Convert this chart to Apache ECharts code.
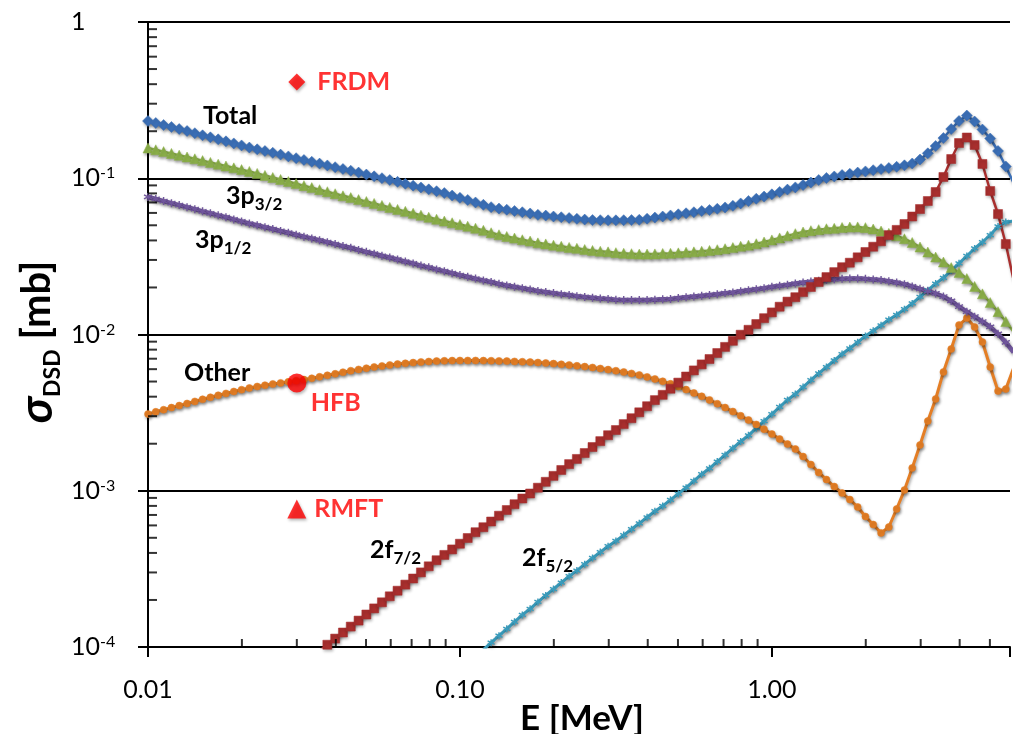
<!DOCTYPE html>
<html><head><meta charset="utf-8">
<script src="https://cdn.jsdelivr.net/npm/echarts@6/dist/echarts.min.js"></script>
<style>html,body{margin:0;padding:0;background:#fff}#c{width:1013px;height:734px}</style>
</head><body><div id="c"></div>
<script>
// Energy grid [MeV]
const energy = [
0.01,0.01059,0.01122,0.01189,0.01259,0.01334,0.01413,0.01496,0.01585,0.01679,
0.01778,0.01884,0.01995,0.02113,0.02239,0.02371,0.02512,0.02661,0.02818,0.02985,
0.03162,0.0335,0.03548,0.03758,0.03981,0.04217,0.04467,0.04732,0.05012,0.05309,
0.05623,0.05957,0.0631,0.06683,0.07079,0.07499,0.07943,0.08414,0.08913,0.09441,
0.1,0.1059,0.1122,0.1189,0.1259,0.1334,0.1413,0.1496,0.1585,0.1679,
0.1778,0.1884,0.1995,0.2113,0.2239,0.2371,0.2512,0.2661,0.2818,0.2985,
0.3162,0.335,0.3548,0.3758,0.3981,0.4217,0.4467,0.4732,0.5012,0.5309,
0.5623,0.5957,0.631,0.6683,0.7079,0.7499,0.7943,0.8414,0.8913,0.9441,
1,1.059,1.122,1.189,1.259,1.334,1.413,1.496,1.585,1.679,
1.778,1.884,1.995,2.113,2.239,2.371,2.512,2.661,2.818,2.985,
3.162,3.35,3.548,3.758,3.981,4.217,4.467,4.732,5.012,5.309,
5.623,5.957];

const total = [
0.2325,0.2257,0.2191,0.2128,0.2066,0.2006,0.1942,0.1883,0.1828,0.1775,
0.1723,0.1671,0.1622,0.1573,0.1532,0.1494,0.1455,0.1417,0.138,0.1344,
0.1309,0.1274,0.1241,0.1208,0.1177,0.1146,0.1117,0.1087,0.1057,0.1029,
0.1001,0.0974,0.0948,0.0922,0.0897,0.0873,0.0849,0.0826,0.0804,0.0775,
0.0749,0.0726,0.07,0.0676,0.0653,0.064,0.0629,0.0617,0.0606,0.0595,
0.0583,0.0577,0.0569,0.0563,0.0557,0.055,0.0544,0.054,0.0539,0.0538,
0.0538,0.0539,0.054,0.0542,0.0551,0.056,0.0569,0.0578,0.0588,0.0597,
0.0606,0.0617,0.0626,0.0637,0.065,0.0666,0.069,0.0715,0.0739,0.0763,
0.0789,0.0817,0.0846,0.0874,0.0905,0.0939,0.0974,0.1004,0.1027,0.1049,
0.1068,0.1087,0.1106,0.1126,0.1144,0.1163,0.1184,0.121,0.1243,0.1318,
0.1444,0.1608,0.1809,0.2066,0.2325,0.2521,0.2308,0.2051,0.1796,0.1494,
0.1189,0.0932];

const p32 = [
0.1561,0.1521,0.1481,0.1442,0.1405,0.1368,0.1332,0.1297,0.1263,0.123,
0.1198,0.1166,0.1136,0.1106,0.1074,0.1043,0.1011,0.0982,0.0953,0.0924,
0.0897,0.0871,0.0845,0.082,0.0796,0.0772,0.0752,0.073,0.071,0.069,
0.067,0.0651,0.0632,0.0614,0.0597,0.058,0.0563,0.0547,0.0532,0.0519,
0.0506,0.0493,0.0479,0.0464,0.0448,0.0435,0.0424,0.0414,0.0404,0.0396,
0.0386,0.038,0.0373,0.0367,0.0361,0.0356,0.035,0.0345,0.0341,0.0338,
0.0334,0.0331,0.0329,0.0327,0.0327,0.0328,0.033,0.0331,0.0333,0.0336,
0.0338,0.0341,0.0345,0.0349,0.0354,0.036,0.0367,0.0373,0.0381,0.0391,
0.0403,0.0415,0.0428,0.0442,0.0453,0.0462,0.0469,0.0475,0.0478,0.0484,
0.0487,0.0488,0.0483,0.0473,0.0459,0.0444,0.0428,0.041,0.0388,0.0363,
0.0337,0.0313,0.0291,0.0268,0.0249,0.0228,0.0203,0.0182,0.016,0.014,
0.0121,0.0104];

const p12 = [
0.0759,0.0737,0.0714,0.0693,0.0673,0.0653,0.0634,0.0614,0.0597,0.0579,
0.0563,0.0545,0.0529,0.0513,0.05,0.0486,0.0473,0.046,0.0448,0.0435,
0.0423,0.0412,0.0401,0.039,0.0379,0.0368,0.0359,0.0348,0.0338,0.0329,
0.0319,0.0311,0.0302,0.0293,0.0285,0.0276,0.0269,0.0261,0.0254,0.0247,
0.024,0.0234,0.0228,0.0222,0.0217,0.0211,0.0206,0.0202,0.0198,0.0194,
0.019,0.0187,0.0184,0.0181,0.0179,0.0176,0.0174,0.0172,0.017,0.0169,
0.0167,0.0166,0.0166,0.0166,0.0166,0.0167,0.0168,0.0169,0.0171,0.0173,
0.0175,0.0177,0.0179,0.0181,0.0184,0.0186,0.0189,0.0192,0.0195,0.0198,
0.0202,0.0205,0.0208,0.0212,0.0215,0.0218,0.0221,0.0224,0.0226,0.0227,
0.0228,0.0228,0.0227,0.0225,0.0223,0.0219,0.0215,0.021,0.0203,0.0196,
0.0189,0.0183,0.0175,0.0164,0.0151,0.014,0.013,0.0121,0.0112,0.0101,
0.0089,0.0077];

const other = [
0.003098,0.0032,0.0033,0.003405,0.003508,0.003618,0.003731,0.003849,0.003964,0.004083,
0.004198,0.004318,0.004434,0.004546,0.004648,0.004737,0.004822,0.0049,0.004981,0.005055,
0.005145,0.005245,0.005362,0.005482,0.005604,0.005737,0.005865,0.005978,0.006085,0.006194,
0.006286,0.006379,0.006465,0.006541,0.006609,0.006668,0.006717,0.006757,0.006787,0.006808,
0.006818,0.006818,0.006818,0.006808,0.006797,0.006777,0.006757,0.006727,0.006697,0.006658,
0.006619,0.00657,0.006513,0.006446,0.006379,0.006305,0.006231,0.006149,0.006059,0.005962,
0.005865,0.005754,0.005636,0.005505,0.005353,0.00519,0.005017,0.004836,0.004641,0.004441,
0.004227,0.004023,0.003815,0.003607,0.00341,0.003215,0.003022,0.002837,0.002655,0.002477,
0.002307,0.002144,0.001991,0.00185,0.001656,0.001472,0.001309,0.00118,0.001064,0.000967,
0.000879,0.000787,0.000684,0.000608,0.000537,0.000586,0.000764,0.00101,0.0014,0.001963,
0.002795,0.003866,0.005754,0.008075,0.0115,0.01275,0.01117,0.008954,0.006194,0.004349,
0.004479,0.006104];

const f72 = [
null,null,null,null,null,null,null,null,null,null,
null,null,null,null,null,null,null,null,null,null,
null,null,9.46e-5,1.034e-4,1.132e-4,1.238e-4,1.351e-4,1.476e-4,1.614e-4,1.766e-4,
1.932e-4,2.111e-4,2.292e-4,2.508e-4,2.744e-4,3.002e-4,3.284e-4,3.592e-4,3.884e-4,4.212e-4,
4.581e-4,4.984e-4,5.428e-4,5.842e-4,6.356e-4,6.922e-4,7.529e-4,8.2e-4,8.92e-4,9.603e-4,
1.046e-3,1.141e-3,1.245e-3,1.358e-3,1.481e-3,1.598e-3,1.744e-3,1.905e-3,2.078e-3,2.267e-3,
2.447e-3,2.671e-3,2.912e-3,3.177e-3,3.476e-3,3.803e-3,4.112e-3,4.498e-3,4.922e-3,5.385e-3,
5.891e-3,6.436e-3,6.969e-3,7.613e-3,8.33e-3,9.114e-3,9.97e-3,0.01072,0.01167,0.01272,
0.01385,0.01506,0.01624,0.01733,0.01868,0.02014,0.02168,0.02331,0.02508,0.02696,
0.02881,0.03119,0.03373,0.03646,0.0395,0.04327,0.04671,0.05095,0.05689,0.06355,
0.07151,0.08166,0.1019,0.1328,0.1681,0.1823,0.1632,0.1234,0.08288,0.05903,
0.03795,0.02233];

const f52 = [
null,null,null,null,null,null,null,null,null,null,
null,null,null,null,null,null,null,null,null,null,
null,null,null,null,null,null,null,null,null,null,
null,null,null,null,null,null,null,null,null,null,
null,null,null,9.62e-5,1.065e-4,1.181e-4,1.308e-4,1.45e-4,1.605e-4,1.756e-4,
1.943e-4,2.138e-4,2.35e-4,2.583e-4,2.838e-4,3.083e-4,3.388e-4,3.712e-4,4.049e-4,4.416e-4,
4.77e-4,5.202e-4,5.674e-4,6.188e-4,6.763e-4,7.396e-4,7.998e-4,8.749e-4,9.561e-4,1.047e-3,
1.156e-3,1.276e-3,1.392e-3,1.537e-3,1.696e-3,1.872e-3,2.066e-3,2.264e-3,2.514e-3,2.791e-3,
3.089e-3,3.436e-3,3.809e-3,4.16e-3,4.613e-3,5.114e-3,5.636e-3,6.194e-3,6.818e-3,7.5e-3,
8.16e-3,8.928e-3,9.781e-3,0.01056,0.01145,0.01244,0.01337,0.01452,0.01581,0.01743,
0.0192,0.02117,0.02306,0.02564,0.02855,0.03181,0.03552,0.03908,0.04333,0.04912,
0.05248,0.05326];

// Single model points at E = 0.03 MeV
const modelE = 0.03;
const frdm = 0.413;
const hfb = 0.00489;
const rmft = 0.000764;

// Axis ticks
const xMajorLabels = {0.01: '0.01', 0.1: '0.10', 1: '1.00'};
const xMinorTicks = [0.02,0.03,0.04,0.05,0.06,0.07,0.08,0.09,0.2,0.3,0.4,0.5,0.6,0.7,0.8,0.9,2,3,4,5];
const yMinorTicks = [2e-4,3e-4,4e-4,5e-4,6e-4,7e-4,8e-4,9e-4,2e-3,3e-3,4e-3,5e-3,6e-3,7e-3,8e-3,9e-3,
  0.02,0.03,0.04,0.05,0.06,0.07,0.08,0.09,0.2,0.3,0.4,0.5,0.6,0.7,0.8,0.9];

function pairs(vals){
  const out = [];
  for (let i = 0; i < energy.length; i++) if (vals[i] != null) out.push([energy[i], vals[i]]);
  return out;
}
const FONT = 'Lato';
const star = 'path://M5,0L5,10M0.7,2.5L9.3,7.5M0.7,7.5L9.3,2.5';
const sh = {shadowBlur: 3, shadowColor: 'rgba(0,0,0,0.35)', shadowOffsetX: 1, shadowOffsetY: 2};

function curve(name, vals, color, symbol, size, width, strokeSym){
  return {
    type: 'line', name: name, data: pairs(vals), symbol: symbol, symbolSize: size,
    showSymbol: true, silent: true,
    lineStyle: Object.assign({color: color, width: width}, sh),
    itemStyle: Object.assign({color: color, borderColor: color, borderWidth: strokeSym ? 1.4 : 0.5}, sh),
    emphasis: {disabled: true}
  };
}

const chart = echarts.init(document.getElementById('c'), null, {renderer: 'canvas'});
const sub = {fontFamily: FONT, fontWeight: 'bold', fontSize: 17, lineHeight: 16, verticalAlign: 'bottom', color: '#000'};
const base = {fontFamily: FONT, fontWeight: 'bold', fontSize: 25, lineHeight: 34, color: '#000'};
function lab(x, y, txt){
  return {type: 'text', x: x, y: y, z: 100, style: {text: txt, rich: {b: base, s: sub}, align: 'left', verticalAlign: 'middle'}};
}

chart.setOption({
  animation: false,
  backgroundColor: '#fff',
  textStyle: {fontFamily: FONT},
  grid: {left: 148, right: 0, top: 22, bottom: 87, containLabel: false},
  xAxis: {
    type: 'log', min: 0.01, max: 5.8, logBase: 10,
    axisLine: {show: true, lineStyle: {color: '#000', width: 2}},
    axisTick: {show: true, length: 10, lineStyle: {color: '#000', width: 2}},
    minorTick: {show: false},
    splitLine: {show: false},
    axisLabel: {
      margin: 30, fontSize: 25, color: '#000', fontFamily: FONT,
      formatter: function(v){ for (const k in xMajorLabels) { if (Math.abs(v - Number(k)) < 1e-9) return xMajorLabels[k]; } return ''; }
    }
  },
  yAxis: {
    type: 'log', min: 1e-4, max: 1, logBase: 10,
    axisLine: {show: true, lineStyle: {color: '#000', width: 2}},
    axisTick: {show: true, length: 10, lineStyle: {color: '#000', width: 2}},
    splitLine: {show: true, lineStyle: {color: '#000', width: 2}},
    axisLabel: {
      margin: 77, align: 'left', color: '#000',
      formatter: function(v){
        const e = Math.round(Math.log10(v));
        return e === 0 ? '{b|1}' : '{b|10}{p|' + e + '}';
      },
      rich: {
        b: {fontFamily: FONT, fontSize: 25, lineHeight: 26, color: '#000'},
        p: {fontFamily: FONT, fontSize: 16, lineHeight: 15, verticalAlign: 'top', color: '#000'}
      }
    }
  },
  graphic: [
    lab(203, 116, '{b|Total}'),
    lab(226, 196, '{b|3p}{s|3/2}'),
    lab(195, 240, '{b|3p}{s|1/2}'),
    lab(184, 373, '{b|Other}'),
    lab(370, 550, '{b|2f}{s|7/2}'),
    lab(522, 558, '{b|2f}{s|5/2}'),
    {type: 'text', x: 582, y: 719, z: 100, style: {text: 'E [MeV]', align: 'center', verticalAlign: 'middle',
      fontFamily: FONT, fontWeight: 'bold', fontSize: 35, fill: '#000'}},
    {type: 'text', x: 37, y: 342, z: 100, rotation: Math.PI / 2, style: {
      text: '{g|σ}{d|DSD}{b| [mb]}', align: 'center', verticalAlign: 'middle',
      rich: {
        g: {fontFamily: FONT, fontWeight: 'bold', fontStyle: 'italic', fontSize: 46, lineHeight: 54, color: '#000'},
        d: {fontFamily: FONT, fontWeight: 'bold', fontSize: 23, lineHeight: 22, verticalAlign: 'bottom', color: '#000'},
        b: {fontFamily: FONT, fontWeight: 'bold', fontSize: 40, lineHeight: 54, color: '#000'}
      }}}
  ],
  series: [
    curve('2f5/2', f52, '#3A9CBC', star, 7, 3, true),
    curve('Other', other, '#E47E25', 'circle', 7, 3, false),
    curve('3p1/2', p12, '#70569C', star, 8, 4.5, true),
    curve('3p3/2', p32, '#8CB04A', 'triangle', 10, 2.5, false),
    curve('2f7/2', f72, '#A92F2E', 'rect', 9, 2.5, false),
    curve('Total', total, '#3B6FB6', 'diamond', 11, 2.5, false),
    {type: 'scatter', silent: true, clip: false, z: 5, symbol: 'rect', symbolSize: [2, 8], symbolOffset: [0, -4],
      itemStyle: {color: '#000'}, data: xMinorTicks.map(v => [v, 1e-4])},
    {type: 'scatter', silent: true, clip: false, z: 5, symbol: 'rect', symbolSize: [9, 2], symbolOffset: [4.5, 0],
      itemStyle: {color: '#000'}, data: yMinorTicks.map(v => [0.01, v])},
    {type: 'scatter', silent: true, z: 10, symbol: 'diamond', symbolSize: 17,
      itemStyle: Object.assign({color: '#FF0000'}, sh), data: [[modelE, frdm]],
      label: {show: true, position: 'right', distance: 12, formatter: 'FRDM', color: '#FF0000', fontFamily: FONT, fontWeight: 'bold', fontSize: 25}},
    {type: 'scatter', silent: true, z: 10, symbol: 'circle', symbolSize: 19,
      itemStyle: Object.assign({color: '#FF0000'}, sh), data: [[modelE, hfb]],
      label: {show: true, position: 'inside', offset: [14, 20], align: 'left', formatter: 'HFB', color: '#FF0000', fontFamily: FONT, fontWeight: 'bold', fontSize: 25}},
    {type: 'scatter', silent: true, z: 10, symbol: 'triangle', symbolSize: 19,
      itemStyle: Object.assign({color: '#FF0000'}, sh), data: [[modelE, rmft]],
      label: {show: true, position: 'right', distance: 8, formatter: 'RMFT', color: '#FF0000', fontFamily: FONT, fontWeight: 'bold', fontSize: 25}}
  ]
});
</script>
</body></html>
